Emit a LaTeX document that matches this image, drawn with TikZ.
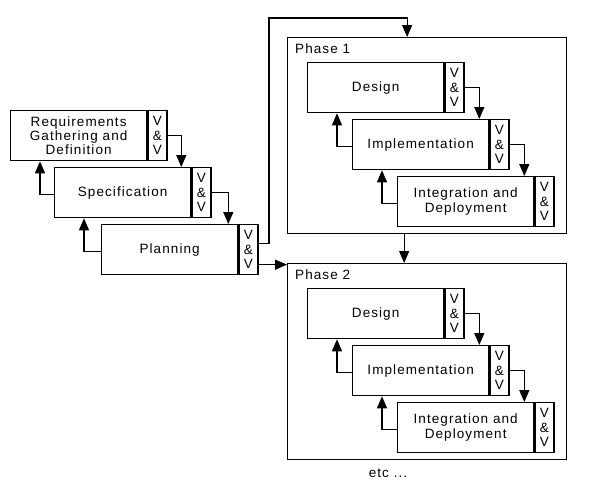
\documentclass[tikz,border=0pt]{standalone}
\usepackage{fontspec}
\setmainfont{Liberation Sans}[LetterSpace=8]
\usetikzlibrary{arrows.meta}

\begin{document}
\begin{tikzpicture}[x=1pt, y=-1pt,
    txt/.style={font=\fontsize{13.5}{14.3}\selectfont},
    stage/.style={draw, line width=1.3pt, minimum width=136pt, minimum height=50pt,
      inner sep=0pt, anchor=north west, align=center, txt},
    vv/.style={draw, line width=1.3pt, minimum width=19pt, minimum height=50pt,
      inner sep=0pt, anchor=north west, align=center, txt},
    phase/.style={draw, line width=1.3pt, minimum width=279pt, minimum height=196pt,
      inner sep=0pt, anchor=north west},
    flow/.style={line width=1.3pt, -{Triangle[length=12pt,width=10pt]}}]
    \useasboundingbox (0,0) rectangle (595,485);

    % first steps
    \node[stage] (req) at (10,110) {Requirements\\Gathering and\\Definition};
    \node[vv] (reqvv) at (req.north east) {V\\\&\\V};
    \node[stage] (spec) at (54,167) {Specification};
    \node[vv] (specvv) at (spec.north east) {V\\\&\\V};
    \node[stage] (plan) at (101,224) {Planning};
    \node[vv] (planvv) at (plan.north east) {V\\\&\\V};

    \draw[flow] (reqvv.east) -| ([xshift=-10pt]spec.north east);
    \draw[flow] (specvv.east) -| ([xshift=-10pt]plan.north east);
    \draw[flow] ([yshift=-2pt]spec.west) -| ([xshift=30pt]req.south west);
    \draw[flow] ([yshift=-2pt]plan.west) -| ([xshift=30pt]spec.south west);

    % phases
    \foreach \n/\y in {1/37, 2/263} {
      \node[phase] (ph\n) at (287,\y) {};
      \node[txt, inner sep=0pt, anchor=base west] (ph\n lbl) at (295,{\y+16}) {Phase \n};
      \node[stage] (des\n) at (307,{\y+25}) {Design};
      \node[vv] (des\n vv) at (des\n.north east) {V\\\&\\V};
      \node[stage] (imp\n) at (352,{\y+82}) {Implementation};
      \node[vv] (imp\n vv) at (imp\n.north east) {V\\\&\\V};
      \node[stage] (int\n) at (397,{\y+139}) {Integration and\\Deployment};
      \node[vv] (int\n vv) at (int\n.north east) {V\\\&\\V};

      \draw[flow] (des\n vv.east) -| ([xshift=-10pt]imp\n.north east);
      \draw[flow] (imp\n vv.east) -| ([xshift=-10pt]int\n.north east);
      \draw[flow] ([yshift=-2pt]imp\n.west) -| ([xshift=30pt]des\n.south west);
      \draw[flow] ([yshift=-2pt]int\n.west) -| ([xshift=30pt]imp\n.south west);
    }

    \coordinate (up) at (269,18);
    \draw[flow] ([yshift=6pt]planvv.east) -| (up) -| ([xshift=-20pt]ph1.north);
    \draw[flow] ([yshift=-15pt]planvv.east) -- ([yshift=-15pt]planvv.east -| ph2.west);
    \draw[flow] ([xshift=-23pt]ph1.south) -- ([xshift=-23pt]ph2.north);

    \node[txt] (etc) at (388,473) {etc ...};
\end{tikzpicture}
\end{document}
